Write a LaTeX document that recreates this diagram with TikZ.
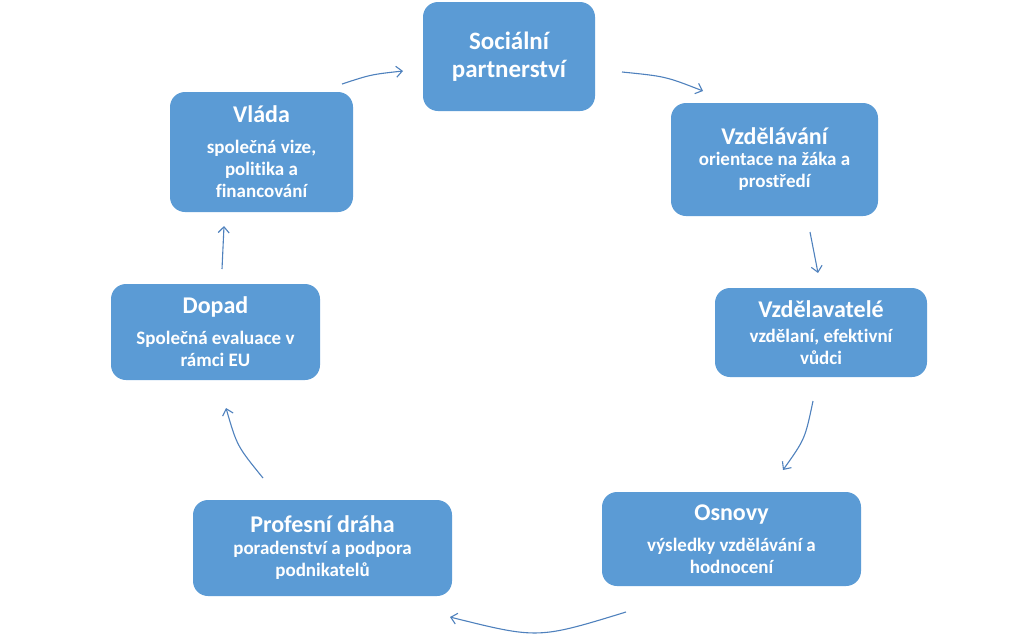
\documentclass[tikz,border=0pt]{standalone}
\usepackage{fontspec}
\setmainfont{Carlito}[Ligatures=NoCommon]
\usetikzlibrary{arrows.meta}
\definecolor{boxblue}{HTML}{5B9BD5}
\definecolor{arrowblue}{HTML}{4F81BD}
\newcommand\boxtitle[1]{{\fontsize{24}{24}\selectfont #1}}
\tikzset{
  box/.style={fill=boxblue, rounded corners=15pt, text=white,
    font=\bfseries\fontsize{19}{22}\selectfont, align=center, inner sep=0pt},
  flow/.style={draw=arrowblue, line width=1.1pt,
    -{Straight Barb[length=6pt,width=11pt]}},
}
\begin{document}
\begin{tikzpicture}[x=1pt,y=-1pt]
\useasboundingbox (0,0) rectangle (1024,635);
\node[box, minimum width=172pt, minimum height=109pt,
  font=\bfseries\fontsize{25}{28}\selectfont] (soc) at (509,56.5) {Sociální\\partnerství};
\node[box, minimum width=207pt, minimum height=113pt] (vzd) at (774.5,159.5)
  {\boxtitle{Vzdělávání}\\[-1pt]orientace na žáka a\\prostředí};
\node[box, minimum width=212pt, minimum height=89pt] (vzdl) at (821,332.5)
  {\boxtitle{Vzdělavatelé}\\[3pt]vzdělaní, efektivní\\vůdci};
\node[box, minimum width=259pt, minimum height=94pt] (osn) at (731.5,539)
  {\boxtitle{Osnovy}\\[9pt]výsledky vzdělávání a\\hodnocení};
\node[box, minimum width=259pt, minimum height=96pt] (prof) at (322.5,548)
  {\boxtitle{Profesní dráha}\\[0pt]poradenství a podpora\\podnikatelů};
\node[box, minimum width=209pt, minimum height=96pt] (dop) at (215.5,332)
  {\boxtitle{Dopad}\\[9pt]Společná evaluace v\\rámci EU};
\node[box, minimum width=183pt, minimum height=120pt] (vla) at (261.5,152)
  {\boxtitle{Vláda}\\[9pt]společná vize,\\politika a\\financování};
% arrow end points
\coordinate (a1s) at (342,84);  \coordinate (a1e) at (403,71);
\coordinate (a2s) at (622,72);  \coordinate (a2e) at (703,91);
\coordinate (a3s) at (810,232); \coordinate (a3e) at (818,273);
\coordinate (a4s) at (813,401); \coordinate (a4e) at (783,470);
\coordinate (a5s) at (626,612); \coordinate (a5e) at (450,617);
\coordinate (a6s) at (263,478); \coordinate (a6e) at (226,408);
\coordinate (a7s) at (222,269); \coordinate (a7e) at (224,226);
\draw[flow] (a1s) .. controls (371,74.5) .. (a1e);
\draw[flow] (a2s) .. controls (665.6,76.4) .. (a2e);
\draw[flow] (a3s) -- (a3e);
\draw[flow] (a4s) .. controls (805,439) .. (a4e);
\draw[flow] (a5s) .. controls (538,639) .. (a5e);
\draw[flow] (a6s) .. controls (237,446) .. (a6e);
\draw[flow] (a7s) -- (a7e);
\end{tikzpicture}
\end{document}
